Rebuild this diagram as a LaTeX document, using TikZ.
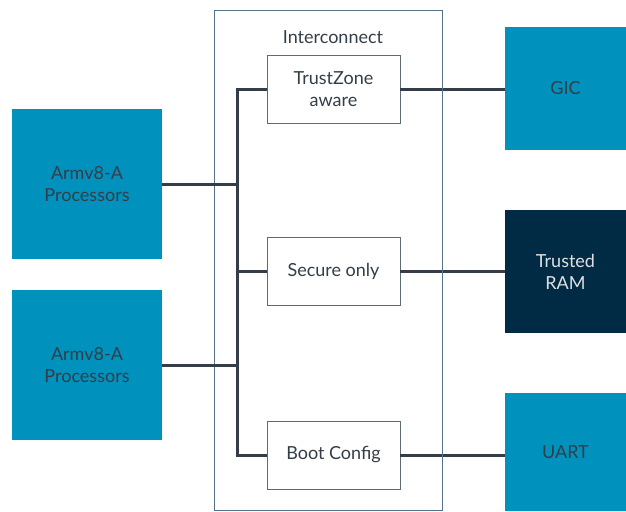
\documentclass[tikz,border=0pt]{standalone}
\usepackage{fontspec}
\setmainfont{Lato}
\usepackage{tikz}
\usetikzlibrary{positioning, calc}
\definecolor{armblue}{HTML}{0091BD}
\definecolor{armnavy}{HTML}{012A45}
\definecolor{armtext}{HTML}{333E48}
\definecolor{framegrey}{HTML}{55728A}
\definecolor{boxgrey}{HTML}{5F6B73}

\begin{document}
\begin{tikzpicture}[x=1pt, y=-1pt,
	every node/.style={font=\fontsize{18}{22}\selectfont, text=armtext, align=center, inner sep=0pt},
	block/.style={fill=armblue, minimum width=150pt, minimum height=150pt},
	periph/.style={fill=armblue, minimum width=121pt, minimum height=123pt},
	filter/.style={draw=boxgrey, line width=0.8pt, fill=white, minimum width=133pt, minimum height=68pt},
	bus/.style={draw=armtext, line width=3pt}]
	
	\useasboundingbox (0,0) rectangle (626,511);
	
	% Interconnect
	\node[draw=framegrey, line width=0.8pt, minimum width=228pt, minimum height=500pt] (interconnect) at (328,260) {};
	\node (iclabel) at (333,37) {Interconnect};
	
	\node[filter] (tzaware) at (333.5,89) {TrustZone\\aware};
	\node[filter] (secure) at (333.5,271) {Secure only};
	\node[filter] (bootcfg) at (333.5,455) {Boot Config};
	
	% Processors
	\node[block] (procA) at (87,184) {Armv8-A\\Processors};
	\node[block] (procB) at (87,365) {Armv8-A\\Processors};
	
	% Peripherals
	\node[periph] (gic) at (565.5,88.5) {GIC};
	\node[periph, fill=armnavy, text=white!88!black, minimum height=123pt] (tram) at (565.5,271.5) {Trusted\\RAM};
	\node[periph, minimum height=118pt] (uart) at (565.5,452) {UART};
	
	% Bus
	\coordinate (busline) at (237,0);
	\draw[bus] (tzaware.west) -- (tzaware.west -| busline) -- (bootcfg.west -| busline) -- (bootcfg.west);
	\draw[bus] (secure.west) -- (secure.west -| busline);
	\draw[bus] (procA.east) -- (procA.east -| busline);
	\draw[bus] (procB.east) -- (procB.east -| busline);
	
	\draw[bus] (tzaware.east) -- (tzaware.east -| gic.west);
	\draw[bus] (secure.east) -- (secure.east -| tram.west);
	\draw[bus] (bootcfg.east) -- (bootcfg.east -| uart.west);
	
	% frame over the bus lines
	\draw[framegrey, line width=0.8pt] (interconnect.north east) -- (interconnect.south east);
	
\end{tikzpicture}
\end{document}
